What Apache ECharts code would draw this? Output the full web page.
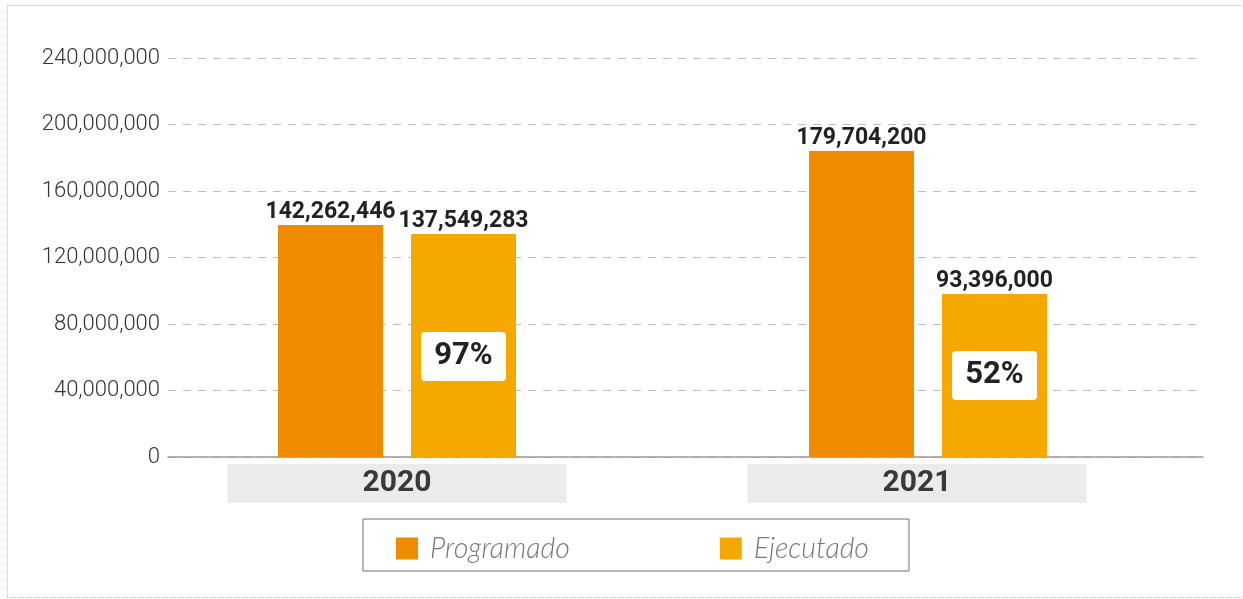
<!DOCTYPE html>
<html>
<head>
<meta charset="utf-8">
<script src="https://cdn.jsdelivr.net/npm/echarts@6/dist/echarts.min.js"></script>
<style>
  body { margin: 0; background: #fff; }
  #frame { position: absolute; left: 7px; top: 5px; width: 1240px; height: 591px;
           border-top: 1px dotted #bbb; border-left: 1px dotted #bbb; border-bottom: 1px dotted #bbb; }
  #chart { position: absolute; left: 0; top: 0; width: 1243px; height: 599px; }
</style>
</head>
<body>
<div id="frame"></div>
<div id="chart"></div>
<script>
var categories = ['2020', '2021'];
// montos rotulados
var programado = [142262446, 179704200];
var ejecutado = [137549283, 93396000];
// alturas de barra tal como se dibujan en la imagen
var alturaProgramado = [139500000, 184100000];
var alturaEjecutado = [134100000, 98000000];
var yMin = 0, yMax = 240000000, yStep = 40000000;

var fmt = function (v) { return v.toLocaleString('en-US'); };
var pct = function (i) { return Math.round(ejecutado[i] / programado[i] * 100) + '%'; };

var myChart = echarts.init(document.getElementById('chart'));

var valueLabel = function (arr) {
    return {
        show: true,
        position: 'top',
        distance: 1,
        fontFamily: 'Roboto',
        fontWeight: 'bold',
        fontSize: 23,
        color: '#222',
        formatter: function (p) { return fmt(arr[p.dataIndex]); }
    };
};

var option = {
    animation: false,
    grid: [
        {left: 131.5, width: 1062, top: 58, bottom: 142},
        {left: 168, right: 40, top: 58, bottom: 142}
    ],
    legend: {
        data: ['Programado', 'Ejecutado'],
        left: 363,
        top: 519,
        padding: [15, 40, 8, 33],
        itemGap: 150,
        itemWidth: 22,
        itemHeight: 22,
        icon: 'rect',
        borderColor: '#707070',
        borderWidth: 1,
        textStyle: {
            fontFamily: 'Lato',
            fontStyle: 'italic',
            fontWeight: 300,
            fontSize: 28.5,
            color: '#777',
            padding: [0, 0, 0, 7]
        }
    },
    xAxis: [
        {
            gridIndex: 0,
            type: 'category',
            data: categories,
            axisLine: {show: false},
            axisTick: {show: false},
            axisLabel: {
                margin: 7,
                formatter: function (v, i) {
                    return i === 1 ? '{box|' + v + '}{pad| }' : '{box|' + v + '}';
                },
                rich: {
                    box: {
                        width: 339,
                        height: 39,
                        lineHeight: 39,
                        align: 'center',
                        backgroundColor: '#ebebeb',
                        fontFamily: 'Roboto',
                        fontWeight: 'bold',
                        fontSize: 30,
                        color: '#3d3735'
                    },
                    pad: {width: 22, height: 39}
                }
            }
        },
        {
            gridIndex: 1,
            type: 'value',
            min: 0,
            max: 1,
            axisLine: {show: true, lineStyle: {color: '#9a9a9a', width: 1.5}},
            axisTick: {show: false},
            axisLabel: {show: false},
            splitLine: {show: false}
        },
        {
            gridIndex: 0,
            type: 'category',
            data: categories,
            show: false
        }
    ],
    yAxis: [
        {
            gridIndex: 0,
            type: 'value',
            min: yMin,
            max: yMax,
            interval: yStep,
            show: false
        },
        {
            gridIndex: 1,
            type: 'value',
            min: yMin,
            max: yMax,
            interval: yStep,
            axisLine: {show: false},
            axisTick: {show: false},
            axisLabel: {
                margin: 8,
                fontFamily: 'Roboto',
                fontWeight: 300,
                fontSize: 22,
                color: '#333',
                formatter: function (v) { return fmt(v); }
            },
            splitLine: {lineStyle: {color: '#bdbdbd', type: [8, 7], width: 1}}
        }
    ],
    series: [
        {
            name: 'Programado',
            type: 'bar',
            xAxisIndex: 0,
            yAxisIndex: 0,
            barWidth: 105,
            barGap: '26.67%',
            itemStyle: {color: '#f08b00'},
            label: valueLabel(programado),
            data: alturaProgramado
        },
        {
            name: 'Ejecutado',
            type: 'bar',
            xAxisIndex: 0,
            yAxisIndex: 0,
            barWidth: 105,
            barGap: '26.67%',
            itemStyle: {color: '#f5a800'},
            label: valueLabel(ejecutado),
            data: alturaEjecutado
        },
        {
            name: 'base',
            type: 'bar',
            xAxisIndex: 2,
            yAxisIndex: 0,
            barWidth: 105,
            barGap: '26.67%',
            silent: true,
            itemStyle: {color: 'rgba(0,0,0,0)'},
            data: alturaProgramado
        },
        {
            name: 'porcentaje',
            type: 'bar',
            xAxisIndex: 2,
            yAxisIndex: 0,
            barWidth: 105,
            barGap: '26.67%',
            silent: true,
            itemStyle: {color: 'rgba(0,0,0,0)'},
            label: {
                show: true,
                position: 'inside',
                width: 85,
                height: 49,
                lineHeight: 49,
                align: 'center',
                verticalAlign: 'middle',
                backgroundColor: '#fff',
                borderRadius: 4,
                fontFamily: 'Roboto',
                fontWeight: 'bold',
                fontSize: 31,
                color: '#222',
                formatter: function (p) { return pct(p.dataIndex); }
            },
            // the first box sits a little below the middle of its bar
            data: alturaEjecutado.map(function (v, i) {
                return i === 0 ? {value: v, label: {offset: [0, 11]}} : v;
            })
        }
    ]
};

myChart.setOption(option);
</script>
</body>
</html>
